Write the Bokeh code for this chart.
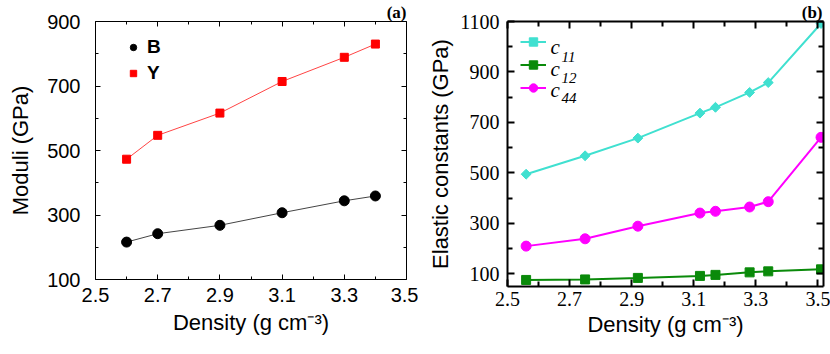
from bokeh.plotting import figure
from bokeh.layouts import row
from bokeh.models import FixedTicker, LinearAxis, Legend, LegendItem, Label, Range1d
from bokeh.embed import file_html
from bokeh.resources import INLINE

# ---- data, panel (a)
density_a = [2.6, 2.7, 2.9, 3.1, 3.3, 3.4]
bulk_B = [216, 242, 268, 307, 344, 359]
young_Y = [473, 547, 616, 714, 789, 830]
xticks_a = [2.5, 2.7, 2.9, 3.1, 3.3, 3.5]
xminor_a = [2.6, 2.8, 3.0, 3.2, 3.4]
yticks_a = [100, 300, 500, 700, 900]
yminor_a = [200, 400, 600, 800]

# ---- data, panel (b)
density_b = [2.56, 2.75, 2.92, 3.12, 3.17, 3.28, 3.34, 3.51]
c11 = [495, 568, 638, 737, 760, 819, 858, 1092]
c12 = [76, 78, 84, 92, 96, 106, 110, 118]
c44 = [210, 239, 289, 341, 348, 365, 386, 641]
xticks_b = [2.5, 2.7, 2.9, 3.1, 3.3, 3.5]
xminor_b = [2.6, 2.8, 3.0, 3.2, 3.4]
yticks_b = [100, 300, 500, 700, 900, 1100]
yminor_b = [200, 400, 600, 800, 1000]
subscripts_b = ["11", "12", "44"]

SANS = "Liberation Sans"
SERIF = "Liberation Serif"


def style_axes(p, xt, xm, yt, ym, tick_font, tick_size, major_len, minor_len, lw,
               xstand, ystand, xlab_stand, ylab_stand):
    xtick = FixedTicker(ticks=xt, minor_ticks=xm)
    ytick = FixedTicker(ticks=yt, minor_ticks=ym)
    p.add_layout(LinearAxis(), "above")
    p.add_layout(LinearAxis(), "right")
    for ax in p.xaxis + p.yaxis:
        ax.major_tick_in = major_len
        ax.major_tick_out = 0
        ax.minor_tick_in = minor_len
        ax.minor_tick_out = 0
        ax.axis_line_width = lw
        ax.major_tick_line_width = lw
        ax.minor_tick_line_width = lw
        ax.axis_line_color = "black"
        ax.major_tick_line_color = "black"
        ax.minor_tick_line_color = "black"
        ax.major_label_text_font = tick_font
        ax.major_label_text_font_size = tick_size
        ax.major_label_text_color = "black"
        ax.axis_label_text_font = SANS
        ax.axis_label_text_font_size = "22px"
        ax.axis_label_text_font_style = "normal"
        ax.axis_label_text_color = "black"
    for ax in p.xaxis:
        ax.ticker = xtick
        ax.major_label_standoff = xstand
        ax.axis_label_standoff = xlab_stand
    for ax in p.yaxis:
        ax.ticker = ytick
        ax.major_label_standoff = ystand
        ax.axis_label_standoff = ylab_stand
    for ax in (p.above[0], p.right[0]):
        ax.major_label_text_font_size = "1px"
        ax.major_label_text_color = None
        ax.major_label_standoff = 0
    p.xgrid.visible = False
    p.ygrid.visible = False
    p.outline_line_color = None
    p.background_fill_color = "white"
    p.border_fill_color = "white"


def panel_title(p, text, offset):
    p.title.text = text
    p.title.align = "right"
    p.title.offset = offset
    p.title.standoff = 0
    p.title.text_font = SERIF
    p.title.text_font_style = "bold"
    p.title.text_font_size = "17px"
    p.title.text_color = "black"


# ---------------- panel (a)
pa = figure(width=418, height=347, output_backend="svg", toolbar_location=None,
            x_range=Range1d(2.5, 3.5), y_range=Range1d(100, 900),
            min_border_left=95, min_border_right=12, min_border_top=21, min_border_bottom=68)
pa.xaxis.axis_label = "Density (g cm\u207b\u00b3)"
pa.yaxis.axis_label = "Moduli (GPa)"
style_axes(pa, xticks_a, xminor_a, yticks_a, yminor_a, SANS, "20px", 5, 3, 1, 8, 15, 5, 11)
panel_title(pa, "(a)", 0)

pa.line(density_a, bulk_B, line_color="#444444", line_width=1)
pa.line(density_a, young_Y, line_color="#ff4444", line_width=1)
rB = pa.scatter(density_a, bulk_B, marker="circle", size=10, fill_color="black", line_color="black")
rY = pa.scatter(density_a, young_Y, marker="square", size=8, fill_color="#ff0000", line_color="#ff0000")

leg_a = Legend(items=[LegendItem(label="B", renderers=[rB]), LegendItem(label="Y", renderers=[rY])],
               location=(30, 195), padding=0, margin=0, spacing=4,
               glyph_width=16, glyph_height=22, label_height=22, label_standoff=6,
               label_text_font=SANS, label_text_font_style="bold", label_text_font_size="19px",
               label_text_color="black",
               background_fill_alpha=0, border_line_color=None)
pa.add_layout(leg_a)

# ---------------- panel (b)
pb = figure(width=412, height=354, output_backend="svg", toolbar_location=None,
            x_range=Range1d(2.5, 3.518), y_range=Range1d(50, 1100),
            min_border_left=89, min_border_right=7, min_border_top=21, min_border_bottom=68)
pb.xaxis.axis_label = "Density (g cm\u207b\u00b3)"
pb.yaxis.axis_label = "Elastic constants (GPa)"
style_axes(pb, xticks_b, xminor_b, yticks_b, yminor_b, SERIF, "20px", 7, 5, 2, 5, 8, 3, 4)
panel_title(pb, "(b)", 1)

col11, col12, col44 = "#40e0d0", "#0a8a0a", "#ff00ff"
l11 = pb.line(density_b, c11, line_color=col11, line_width=2)
s11 = pb.scatter(density_b, c11, marker="square", angle=0.785398, size=7, fill_color=col11, line_color=col11)
l12 = pb.line(density_b, c12, line_color=col12, line_width=2)
s12 = pb.scatter(density_b, c12, marker="square", size=9, fill_color=col12, line_color=col12)
l44 = pb.line(density_b, c44, line_color=col44, line_width=2)
s44 = pb.scatter(density_b, c44, marker="circle", size=10, fill_color=col44, line_color=col44)

leg_b = Legend(items=[LegendItem(label=" ", renderers=[l11, s11]),
                      LegendItem(label=" ", renderers=[l12, s12]),
                      LegendItem(label=" ", renderers=[l44, s44])],
               location=(13, 188), padding=0, margin=0, spacing=2,
               glyph_width=26, glyph_height=21, label_height=21, label_standoff=0,
               label_text_font=SERIF, label_text_font_size="8px",
               background_fill_alpha=0, border_line_color=None)
pb.add_layout(leg_b)
for sub, yc, ys in zip(subscripts_b, (240, 218, 197), (230, 209, 189)):
    pb.add_layout(Label(x=43, y=yc, x_units="screen", y_units="screen", text="c",
                        text_font=SERIF, text_font_style="italic", text_font_size="21px",
                        text_align="left", text_baseline="alphabetic", text_color="black"))
    pb.add_layout(Label(x=54, y=ys, x_units="screen", y_units="screen", text=sub,
                        text_font=SERIF, text_font_style="italic", text_font_size="15px",
                        text_align="left", text_baseline="alphabetic", text_color="black"))

layout = row(pa, pb)
open("out.html", "w").write(file_html(layout, INLINE))
